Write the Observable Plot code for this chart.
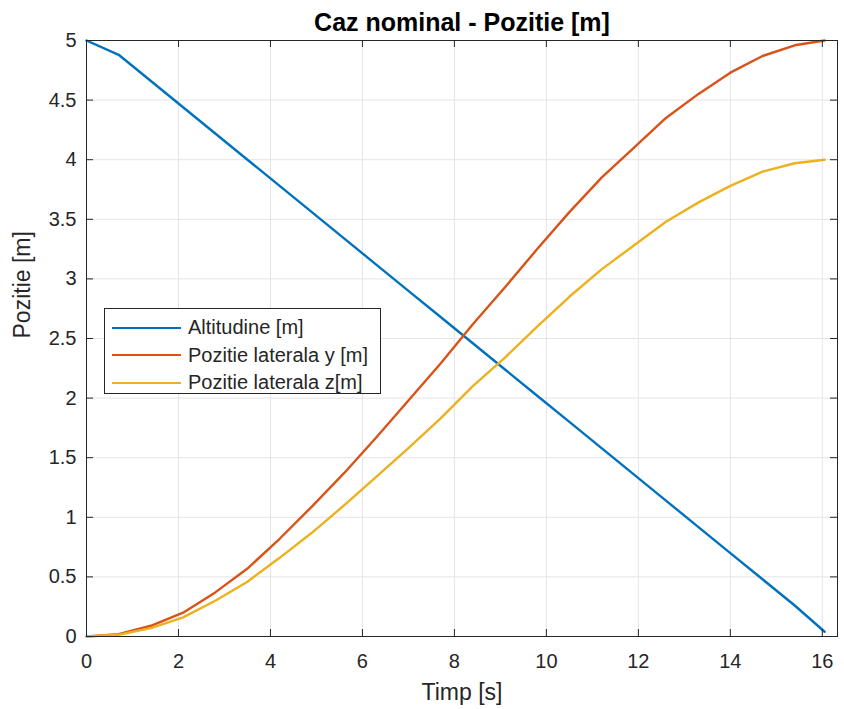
<!DOCTYPE html>
<html>
<head>
<meta charset="utf-8">
<script src="https://cdn.jsdelivr.net/npm/d3@7"></script>
<script src="https://cdn.jsdelivr.net/npm/@observablehq/plot@0.6"></script>
<style>
  body { margin: 0; background: #fff; font-family: "Liberation Sans", Arial, sans-serif; }
  #wrap { position: relative; width: 844px; height: 709px; }
  #legend { position: absolute; left: 104px; top: 308px; width: 277px; height: 86px; box-sizing: border-box;
            border: 1px solid #262626; background: #fff; font-size: 20px; color: #262626; }
  .row { position: absolute; left: 7px; height: 27px; display: flex; align-items: center; }
  .row svg { margin-right: 7px; }
</style>
</head>
<body>
<div id="wrap"></div>
<script>
// ---- data ----
const time      = [0, 0.7, 1.4, 2.1, 2.8, 3.5, 4.2, 4.9, 5.6, 6.3, 7.0, 7.7, 8.4, 9.1, 9.8, 10.5, 11.2, 11.9, 12.6, 13.3, 14.0, 14.7, 15.4, 16.05];
const altitude  = [5.00, 4.88, 4.66, 4.44, 4.22, 4.00, 3.78, 3.56, 3.34, 3.12, 2.90, 2.68, 2.46, 2.24, 2.02, 1.80, 1.58, 1.36, 1.14, 0.92, 0.70, 0.48, 0.26, 0.04];
const lateralY  = [0, 0.02, 0.09, 0.20, 0.37, 0.57, 0.82, 1.09, 1.37, 1.67, 1.98, 2.29, 2.62, 2.93, 3.25, 3.56, 3.85, 4.10, 4.35, 4.55, 4.73, 4.87, 4.96, 5.00];
const lateralZ  = [0, 0.015, 0.07, 0.16, 0.30, 0.46, 0.66, 0.87, 1.10, 1.34, 1.58, 1.83, 2.10, 2.34, 2.60, 2.85, 3.08, 3.28, 3.48, 3.64, 3.78, 3.90, 3.97, 4.00];
const seriesNames  = ["Altitudine [m]", "Pozitie laterala y [m]", "Pozitie laterala z[m]"];
const seriesColors = ["#0072BD", "#D95319", "#EDB120"];
const xTicks = [0, 2, 4, 6, 8, 10, 12, 14, 16];
const yTicks = [0, 0.5, 1, 1.5, 2, 2.5, 3, 3.5, 4, 4.5, 5];
const xDomain = [0, 16.33];
const yDomain = [0, 5];
const title = "Caz nominal - Pozitie [m]";
const xLabel = "Timp [s]";
const yLabel = "Pozitie [m]";

const seriesValues = [altitude, lateralY, lateralZ];
const rows = [];
seriesValues.forEach((vals, i) => vals.forEach((v, j) => rows.push({t: time[j], v, series: seriesNames[i]})));

const ink = "#262626";
const grid = "#e4e4e4";

const chart = Plot.plot({
  width: 844,
  height: 709,
  marginLeft: 86,
  marginRight: 7,
  marginTop: 40,
  marginBottom: 73,
  style: {fontFamily: '"Liberation Sans", Arial, sans-serif', color: ink, background: "#fff"},
  x: {domain: xDomain},
  y: {domain: yDomain},
  color: {domain: seriesNames, range: seriesColors},
  marks: [
    Plot.ruleX(xTicks, {x: d => d, stroke: grid}),
    Plot.ruleY(yTicks, {y: d => d, stroke: grid}),
    Plot.line(rows, {x: "t", y: "v", z: "series", stroke: "series", strokeWidth: 2.4}),
    Plot.frame({stroke: ink, strokeWidth: 1}),
    Plot.tickX(xTicks, {x: d => d, insetTop: 589, stroke: ink}),
    Plot.tickX(xTicks, {x: d => d, insetBottom: 589, stroke: ink}),
    Plot.tickY(yTicks, {y: d => d, insetRight: 744, stroke: ink}),
    Plot.tickY(yTicks, {y: d => d, insetLeft: 744, stroke: ink}),
    Plot.axisX(xTicks, {tickSize: 0, tickPadding: 17, fontSize: 20, label: null, fill: ink, tickFormat: d => String(d)}),
    Plot.axisY(yTicks, {tickSize: 0, tickPadding: 10, fontSize: 20, label: null, fill: ink, tickFormat: d => String(d)}),
    Plot.text([xLabel], {text: d => d, frameAnchor: "bottom", dy: 56, fontSize: 23, fill: ink, lineAnchor: "middle"}),
    Plot.text([yLabel], {text: d => d, frameAnchor: "left", dx: -64, rotate: -90, fontSize: 23, fill: ink, lineAnchor: "middle"}),
    Plot.text([title], {text: d => d, frameAnchor: "top", dy: -18, fontSize: 25, fontWeight: "bold", fill: "#000", lineAnchor: "middle"})
  ]
});

const wrap = document.getElementById("wrap");
wrap.appendChild(chart);

// legend
const legend = document.createElement("div");
legend.id = "legend";
seriesNames.forEach((name, i) => {
  const row = document.createElement("div");
  row.className = "row";
  row.style.top = (5 + i * 27.5) + "px";
  row.innerHTML = `<svg width="69" height="4"><line x1="0" x2="69" y1="2" y2="2" stroke="${seriesColors[i]}" stroke-width="2.2"/></svg><span>${name}</span>`;
  legend.appendChild(row);
});
wrap.appendChild(legend);
</script>
</body>
</html>
